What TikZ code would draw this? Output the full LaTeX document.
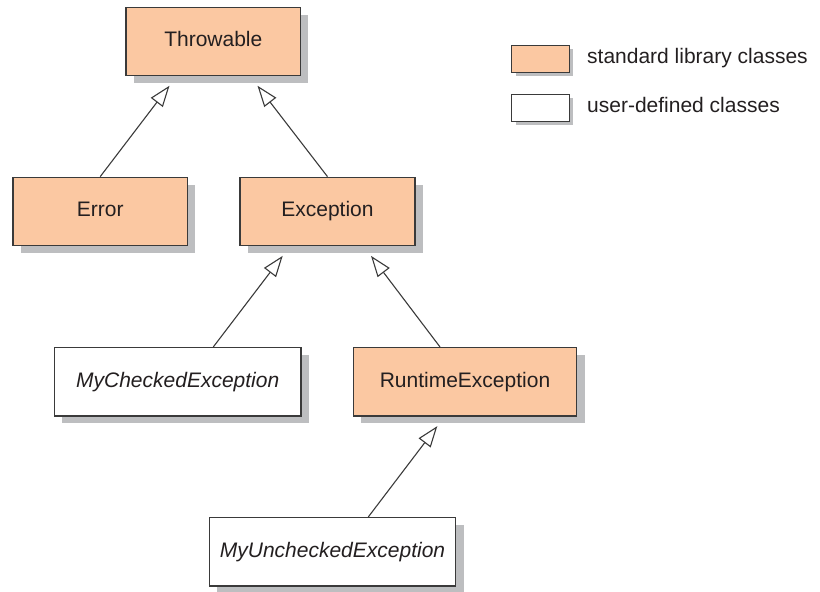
\documentclass[tikz,border=0pt]{standalone}
\usepackage{fontspec}
\setmainfont{Liberation Sans}
\usetikzlibrary{arrows.meta,shadows}
\definecolor{libfill}{HTML}{FBC8A2}
\definecolor{shadowgray}{HTML}{BDBEC0}
\definecolor{edgegray}{HTML}{3A3A3A}
\definecolor{txt}{HTML}{231F20}
\tikzset{
  classbox/.style={draw=edgegray, line width=1.3pt, rectangle, inner sep=0pt,
    minimum height=68.4pt, text=txt, font=\fontsize{21}{25}\selectfont,
    text height=15pt, text depth=4.6pt,
    drop shadow={shadow xshift=7.8pt, shadow yshift=-7.4pt, fill=shadowgray, opacity=1}},
  libclass/.style={classbox, fill=libfill},
  userclass/.style={classbox, fill=white, font=\fontsize{21}{25}\selectfont\itshape},
  legbox/.style={draw=edgegray, line width=1.2pt, rectangle, inner sep=0pt,
    minimum width=57.5pt, minimum height=27pt,
    drop shadow={shadow xshift=4pt, shadow yshift=-3.8pt, fill=shadowgray, opacity=1}},
  legtext/.style={anchor=west, inner sep=0pt, text=txt, font=\fontsize{21}{25}\selectfont,
    text height=15pt, text depth=4.6pt},
  inherit/.style={draw=edgegray, line width=1.1pt,
    -{Triangle[open, length=21pt, width=15pt, fill=white]}}
}
\begin{document}
\begin{tikzpicture}[x=1pt, y=-1pt]
\useasboundingbox (0,0) rectangle (820,592);
\node[libclass, minimum width=174.5pt] (throwable) at (213.3,41.4) {Throwable};
\node[libclass, minimum width=174.5pt] (error) at (100.2,211.5) {Error};
\node[libclass, minimum width=175pt] (exception) at (327.5,211.5) {Exception};
\node[userclass, minimum width=246.7pt] (checked) at (177.7,381.8) {MyCheckedException};
\node[libclass, minimum width=223.4pt] (runtime) at (465,381.8) {RuntimeException};
\node[userclass, minimum width=246.4pt] (unchecked) at (332.5,551.8) {MyUncheckedException};

\draw[inherit] (error.north) -- ([xshift=-43.8pt, yshift=-9.5pt]throwable.south);
\draw[inherit] (exception.north) -- ([xshift=44.2pt, yshift=-9.5pt]throwable.south);
\draw[inherit] ([xshift=35.6pt]checked.north) -- ([xshift=-44.8pt, yshift=-9.5pt]exception.south);
\draw[inherit] ([xshift=-25pt]runtime.north) -- ([xshift=43.5pt, yshift=-9.5pt]exception.south);
\draw[inherit] ([xshift=35.8pt]unchecked.north) -- ([xshift=-27.7pt, yshift=-9.5pt]runtime.south);

\node[legbox, fill=libfill] (leglib) at (540.5,58.6) {};
\node[legbox, fill=white] (leguser) at (540.5,107.7) {};
\node[legtext] (leglibtext) at ([xshift=46.5pt]leglib.center) {standard library classes};
\node[legtext] (legusertext) at ([xshift=46.5pt]leguser.center) {user-defined classes};
\end{tikzpicture}
\end{document}
